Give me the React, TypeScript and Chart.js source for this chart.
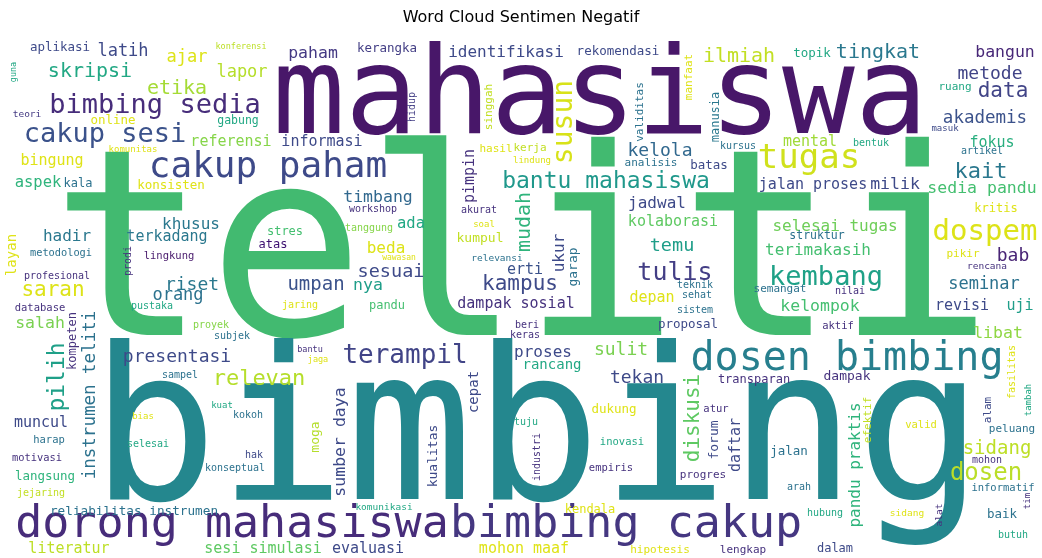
import React, { useEffect, useRef } from "react";
import { Chart, registerables } from "chart.js";

Chart.register(...registerables);

const TITLE = "Word Cloud Sentimen Negatif";

// word cloud entries: text, x (centre / baseline for rotated), y (baseline / centre for rotated), weight (px), rotated flag, colour
const words = [
  "mahasiswa", "teliti", "bimbing", "dorong mahasiswa", "bimbing cakup", "dosen bimbing", "cakup paham", "tugas", "dospem", "bimbing sedia",
  "cakup sesi", "kembang", "terampil", "susun", "tulis", "bantu mahasiswa", "dosen", "pilih", "kampus", "diskusi",
  "relevan", "saran", "kait", "skripsi", "etika", "ilmiah", "tingkat", "data", "mudah", "sidang",
  "umpan", "sesuai", "temu", "riset", "metode", "kelola", "tekan", "bab", "presentasi", "sulit",
  "akademis", "instrumen teliti", "orang", "seminar", "latih", "ajar", "lapor", "paham", "bangun", "milik",
  "sedia pandu", "timbang", "salah", "libat", "kelompok", "sumber daya", "nya", "ukur", "pandu praktis", "identifikasi",
  "khusus", "hadir", "jadwal", "selesai tugas", "terimakasih", "beda", "proses", "ada", "aspek", "terkadang",
  "informasi", "referensi", "bingung", "mental", "fokus", "jalan proses", "kolaborasi", "depan", "dampak sosial", "erti",
  "revisi", "uji", "muncul", "daftar", "literatur", "sesi simulasi", "evaluasi", "mohon maaf", "rancang", "cepat",
  "layan", "pimpin", "kumpul", "dampak", "forum", "kualitas", "garap", "moga", "aplikasi", "rekomendasi",
  "kerangka", "topik", "online", "konsisten", "batas", "proposal", "langsung", "reliabilitas instrumen", "jalan", "baik",
  "dukung", "kala", "stres", "atas", "pandu", "kritis", "transparan", "kendala", "dalam", "kompeten",
  "manusia", "struktur", "gabung", "ruang", "kerja", "hasil", "analisis", "semangat", "pikir", "peluang",
  "progres", "hipotesis", "lengkap", "manfaat", "validitas", "efektif", "alam", "singgah", "hidup", "lingkung",
  "database", "metodologi", "aktif", "harap", "motivasi", "atur", "inovasi", "empiris", "valid", "informatif",
  "profesional", "prodi", "pustaka", "proyek", "subjek", "workshop", "tanggung", "jaring", "akurat", "teknik",
  "sehat", "sistem", "nilai", "beri", "keras", "sampel", "kokoh", "selesai", "hak", "konseptual",
  "jejaring", "tuju", "industri", "arah", "butuh", "hubung", "mohon", "bentuk", "kursus", "artikel",
  "relevansi", "rencana", "komunikasi", "sidang", "alat", "teori", "masuk", "komunitas", "lindung", "kuat",
  "bias", "tambah", "tim", "bantu", "jaga", "konferensi", "guna", "wawasan", "soal", "fasilitas",
];

const posX = [
  600, 522, 537, 232, 626, 847, 268, 809, 985, 155,
  105, 826, 405, 572, 675, 606, 986, 64, 520, 699,
  259, 53, 981, 90, 177, 739, 878, 1003, 530, 997,
  316, 391, 672, 192, 990, 660, 637, 1013, 177, 621,
  985, 95, 178, 984, 123, 187, 242, 313, 1005, 895,
  982, 378, 40, 998, 820, 345, 368, 564, 860, 506,
  191, 67, 657, 835, 818, 386, 543, 411, 38, 167,
  322, 231, 52, 810, 992, 813, 673, 652, 516, 525,
  962, 1020, 41, 740, 69, 263, 368, 524, 552, 478,
  16, 474, 480, 847, 718, 437, 577, 319, 60, 618,
  387, 812, 113, 171, 709, 688, 45, 134, 789, 1002,
  614, 78, 285, 273, 387, 996, 754, 590, 835, 76,
  719, 817, 238, 955, 530, 496, 651, 780, 963, 1012,
  703, 660, 743, 692, 643, 871, 991, 492, 415, 169,
  40, 61, 838, 49, 37, 716, 622, 611, 921, 1003,
  57, 131, 152, 211, 232, 373, 369, 300, 479, 695,
  697, 695, 850, 527, 525, 180, 248, 148, 254, 235,
  41, 526, 540, 799, 1013, 825, 987, 871, 738, 982,
  497, 987, 384, 907, 942, 27, 945, 133, 532, 222,
  143, 1031, 1030, 310, 318, 241, 16, 399, 484, 1015,
];

const posY = [
  133, 335, 499, 537, 537, 370, 177, 168, 240, 113,
  142, 285, 363, 122, 280, 188, 480, 377, 290, 418,
  385, 296, 178, 77, 94, 62, 58, 97, 222, 454,
  290, 277, 251, 290, 79, 156, 383, 261, 362, 355,
  123, 395, 300, 289, 56, 62, 77, 58, 57, 189,
  193, 202, 328, 338, 311, 442, 290, 253, 465, 57,
  229, 241, 208, 231, 255, 253, 357, 228, 187, 241,
  146, 146, 165, 146, 147, 189, 226, 302, 308, 274,
  310, 310, 427, 445, 553, 553, 553, 553, 369, 392,
  255, 176, 242, 380, 440, 456, 267, 437, 51, 55,
  52, 57, 124, 189, 169, 328, 480, 515, 455, 518,
  413, 187, 235, 248, 309, 212, 383, 513, 552, 341,
  117, 239, 124, 90, 151, 152, 166, 292, 257, 432,
  478, 553, 553, 77, 112, 420, 410, 107, 107, 259,
  311, 256, 329, 443, 461, 412, 445, 471, 428, 491,
  279, 261, 309, 328, 339, 212, 231, 308, 213, 288,
  298, 313, 294, 328, 338, 378, 418, 447, 458, 471,
  496, 425, 457, 490, 538, 516, 463, 146, 149, 154,
  261, 269, 510, 516, 515, 117, 131, 152, 163, 408,
  419, 400, 501, 352, 362, 49, 72, 260, 227, 372,
];

const weights = [
  121, 261, 212, 45, 45, 40, 36, 34, 29, 27,
  27, 27, 26, 28, 25, 23, 24, 23, 21, 21,
  22, 21, 22, 20, 20, 20, 20, 21, 20, 19,
  19, 18.5, 18.5, 18, 18, 18, 18, 18, 18, 18,
  17.5, 17.5, 17, 17, 17, 17, 17, 16.5, 16.5, 16.5,
  16.5, 16.5, 16.5, 16.5, 16.5, 16.5, 16.5, 16, 16, 16,
  16, 16, 16, 16, 16, 16, 16, 15.5, 15.5, 15,
  15, 15, 15, 15, 15, 15, 15, 15, 15, 15,
  15, 15, 15, 15, 15, 15, 15, 15, 14, 14,
  14, 15, 13, 13, 13, 13, 13, 13, 12.5, 12.5,
  12.5, 12.5, 12.5, 12.5, 12.5, 12.5, 12.5, 12.7, 12.5, 12.5,
  12.5, 12, 12, 12, 12, 12, 12, 12, 12, 12,
  12, 11.5, 11.5, 11, 11, 11, 11, 11, 11, 11,
  11, 11, 11, 11, 11, 11, 11, 11, 10, 10.5,
  10.5, 10.3, 10.5, 10.5, 10.4, 10.5, 10.5, 10.5, 10.5, 10.5,
  10, 10, 10, 10, 10, 10, 10, 10, 10, 10,
  10, 10, 10, 10, 10, 10, 10, 10, 10, 10,
  10, 10, 10, 10, 10, 10, 10, 10, 10, 10,
  9.5, 9.5, 9.5, 9.5, 9.5, 9.5, 9, 9, 9, 9,
  9, 9, 9, 8.5, 8.5, 8.5, 8.5, 8, 9, 10,
];

const rotated = [
  0, 0, 0, 0, 0, 0, 0, 0, 0, 0,
  0, 0, 0, 1, 0, 0, 0, 1, 0, 1,
  0, 0, 0, 0, 0, 0, 0, 0, 1, 0,
  0, 0, 0, 0, 0, 0, 0, 0, 0, 0,
  0, 1, 0, 0, 0, 0, 0, 0, 0, 0,
  0, 0, 0, 0, 0, 1, 0, 1, 1, 0,
  0, 0, 0, 0, 0, 0, 0, 0, 0, 0,
  0, 0, 0, 0, 0, 0, 0, 0, 0, 0,
  0, 0, 0, 1, 0, 0, 0, 0, 0, 1,
  1, 1, 0, 0, 1, 1, 1, 1, 0, 0,
  0, 0, 0, 0, 0, 0, 0, 0, 0, 0,
  0, 0, 0, 0, 0, 0, 0, 0, 0, 1,
  1, 0, 0, 0, 0, 0, 0, 0, 0, 0,
  0, 0, 0, 1, 1, 1, 1, 1, 1, 0,
  0, 0, 0, 0, 0, 0, 0, 0, 0, 0,
  0, 1, 0, 0, 0, 0, 0, 0, 0, 0,
  0, 0, 0, 0, 0, 0, 0, 0, 0, 0,
  0, 0, 1, 0, 0, 0, 0, 0, 0, 0,
  0, 0, 0, 0, 1, 0, 0, 0, 0, 0,
  0, 1, 1, 0, 0, 0, 1, 0, 0, 1,
];

const colors = [
  "#481769", "#42ba70", "#24878e", "#472c7a", "#453781", "#277f8e", "#3e4a89", "#d0e11c", "#dde318", "#472d7b",
  "#3b528b", "#1fa187", "#414487", "#d8e219", "#433e85", "#1f988b", "#bade28", "#1fa088", "#3e4a89", "#5ec962",
  "#b5de2b", "#dde318", "#2a788e", "#22a884", "#a5db36", "#c2df23", "#2a788e", "#414487", "#2fb47c", "#bddf26",
  "#3b528b", "#3e4a89", "#1f9e89", "#2a788e", "#414487", "#31688e", "#3e4a89", "#482475", "#3e4a89", "#7ad151",
  "#3b528b", "#2c728e", "#2c728e", "#2c728e", "#3e4a89", "#dde318", "#b5de2b", "#443983", "#482878", "#3e4a89",
  "#44bf70", "#31688e", "#7ad151", "#8fd744", "#44bf70", "#3e4a89", "#1f9e89", "#3e4a89", "#2fb47c", "#3e4a89",
  "#2a788e", "#2a788e", "#3e4a89", "#6ece58", "#44bf70", "#dde318", "#3e4a89", "#22a884", "#2fb47c", "#2a788e",
  "#3e4a89", "#86d549", "#dfe318", "#a0da39", "#29af7f", "#3e4a89", "#5ec962", "#dfe318", "#46327e", "#3b528b",
  "#3e4a89", "#1f9e89", "#3e4a89", "#3e4a89", "#bddf26", "#5ec962", "#3e4a89", "#dfe318", "#22a884", "#3e4a89",
  "#dfe318", "#46327e", "#c2df23", "#46327e", "#3e4a89", "#3e4a89", "#2c728e", "#b5de2b", "#3e4a89", "#3e4a89",
  "#433e85", "#22a884", "#dfe318", "#dfe318", "#3e4a89", "#3e4a89", "#2fb47c", "#2c728e", "#2c728e", "#2c728e",
  "#dfe318", "#2c728e", "#44bf70", "#3b0f70", "#44bf70", "#dfe318", "#46327e", "#dfe318", "#3e4a89", "#46327e",
  "#2a788e", "#2c728e", "#22a884", "#22a884", "#c2df23", "#dfe318", "#2c728e", "#2c728e", "#dfe318", "#2c728e",
  "#46327e", "#dfe318", "#46327e", "#dfe318", "#2c728e", "#c2df23", "#3e4a89", "#c2df23", "#433e85", "#481a6c",
  "#46327e", "#2c728e", "#46327e", "#2c728e", "#46327e", "#46327e", "#22a884", "#46327e", "#dfe318", "#2c728e",
  "#46327e", "#46327e", "#22a884", "#86d549", "#2c728e", "#46327e", "#86d549", "#dfe318", "#46327e", "#2c728e",
  "#2c728e", "#2c728e", "#46327e", "#46327e", "#46327e", "#2c728e", "#2c728e", "#22a884", "#3e4a89", "#2c728e",
  "#c2df23", "#22a884", "#46327e", "#2c728e", "#22a884", "#22a884", "#46327e", "#22a884", "#2c728e", "#2c728e",
  "#2c728e", "#46327e", "#22a884", "#dfe318", "#46327e", "#443a83", "#3e4a89", "#dfe318", "#dfe318", "#22a884",
  "#dfe318", "#22a884", "#46327e", "#46327e", "#dfe318", "#bddf26", "#22a884", "#dfe318", "#dfe318", "#dfe318",
];

const WIDTH = 1042;
const HEIGHT = 558;
const TITLE_SIZE = 16;
const TITLE_PAD_TOP = 8.4;
const TITLE_PAD_BOTTOM = 5.4;
const CLOUD_TOP = TITLE_PAD_TOP + TITLE_SIZE * 1.2 + TITLE_PAD_BOTTOM;

const wordPlugin = {
  id: "wordCloudText",
  afterDatasetsDraw(chart: any) {
    const ctx = chart.ctx as CanvasRenderingContext2D;
    const meta = chart.getDatasetMeta(0);
    ctx.save();
    ctx.textAlign = "center";
    ctx.textBaseline = "alphabetic";
    meta.data.forEach((el: any, i: number) => {
      const p = el.getProps(["x", "y"], true);
      ctx.save();
      ctx.translate(p.x, p.y);
      if (rotated[i]) ctx.rotate(-Math.PI / 2);
      ctx.font = `${weights[i]}px "DejaVu Sans Mono"`;
      ctx.fillStyle = colors[i];
      ctx.fillText(words[i], 0, 0);
      ctx.restore();
    });
    ctx.restore();
  },
};

export default function App() {
  const canvasRef = useRef<HTMLCanvasElement | null>(null);

  useEffect(() => {
    if (!canvasRef.current) return;
    const chart = new Chart(canvasRef.current, {
      type: "scatter",
      data: {
        datasets: [
          {
            label: "words",
            data: words.map((_, i) => ({ x: posX[i], y: posY[i] })),
            pointRadius: 0,
            pointHoverRadius: 0,
            pointHitRadius: 0,
            backgroundColor: colors,
          },
        ],
      },
      options: {
        animation: false,
        responsive: true,
        maintainAspectRatio: false,
        layout: { padding: 0 },
        events: [],
        plugins: {
          legend: { display: false },
          tooltip: { enabled: false },
          title: {
            display: true,
            text: TITLE,
            color: "#000000",
            font: { family: '"DejaVu Sans"', size: TITLE_SIZE, weight: "normal", lineHeight: 1.2 },
            padding: { top: TITLE_PAD_TOP, bottom: TITLE_PAD_BOTTOM },
          },
        },
        scales: {
          x: { type: "linear", display: false, min: 0, max: WIDTH },
          y: { type: "linear", display: false, min: CLOUD_TOP, max: HEIGHT, reverse: true },
        },
      },
      plugins: [wordPlugin],
    });
    return () => chart.destroy();
  }, []);

  return (
    <div
      style={{
        position: "absolute",
        left: 0,
        top: 0,
        width: WIDTH,
        height: HEIGHT,
        background: "#ffffff",
      }}
    >
      <canvas ref={canvasRef} />
    </div>
  );
}
